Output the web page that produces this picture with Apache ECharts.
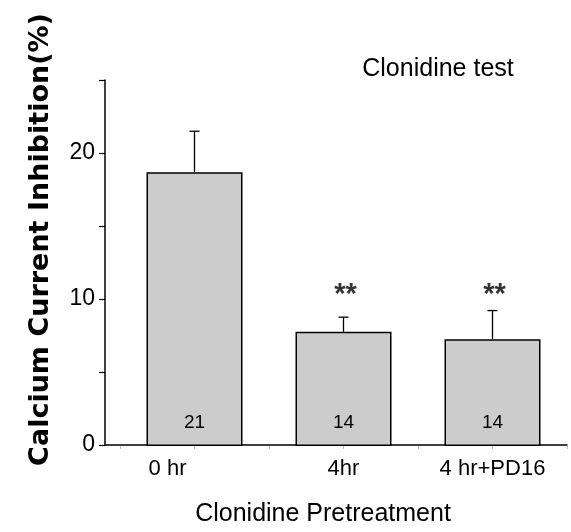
<!DOCTYPE html>
<html>
<head>
<meta charset="utf-8">
<script src="https://cdn.jsdelivr.net/npm/echarts@6/dist/echarts.min.js"></script>
<style>
  html, body { margin: 0; padding: 0; background: #fff; }
  #chart { width: 571px; height: 532px; }
</style>
</head>
<body>
<div id="chart"></div>
<script>
// Treatment groups, their slot on the x scale, and the measured values
const categories = ['0 hr', '4hr', '4 hr+PD16'];
const positions = [1, 3, 5];
const means = [18.7, 7.8, 7.3];
const sems = [2.8, 1.0, 1.95];
const nCells = [21, 14, 14];
const significance = ['', '**', '**'];
const significanceLevel = 10.5;
const yTicks = [0, 10, 20];

const FONT = '"Liberation Sans", Arial, sans-serif';
const chart = echarts.init(document.getElementById('chart'), null, { renderer: 'canvas' });

const barData = positions.map((p, i) => [p, means[i]]);
const errData = positions.map((p, i) => [p, means[i], sems[i]]);
const sigData = positions
  .map((p, i) => significance[i] ? { value: [p, significanceLevel], mark: significance[i] } : null)
  .filter(Boolean);

chart.setOption({
  animation: false,
  backgroundColor: '#ffffff',
  title: {
    text: 'Clonidine test',
    left: 433,
    top: 52,
    textAlign: 'center',
    textStyle: { fontFamily: FONT, fontSize: 25, fontWeight: 'normal', color: '#000' }
  },
  grid: [
    { left: 105, right: 4, top: 80, bottom: 86 },
    { left: 120, right: 4, top: 80, bottom: 86 }
  ],
  xAxis: [
    {
      gridIndex: 0, type: 'value', min: 0, max: 1,
      axisLine: { show: true, lineStyle: { color: '#000', width: 1.5 } },
      axisTick: { show: false }, axisLabel: { show: false }, splitLine: { show: false },
      name: 'Clonidine Pretreatment',
      nameLocation: 'middle',
      nameGap: 57,
      nameTextStyle: { fontFamily: FONT, fontSize: 25, color: '#000', padding: [0, 26, 0, 0] }
    },
    {
      gridIndex: 1, type: 'value', min: 0, max: 6, interval: 1,
      axisLine: { show: false },
      axisTick: { show: true, length: 3, lineStyle: { color: '#bbbbbb', width: 1 } },
      splitLine: { show: false },
      axisLabel: {
        fontFamily: FONT, fontSize: 22, color: '#000', margin: 12,
        formatter: v => {
          const i = positions.indexOf(v);
          if (i < 0) return '';
          return i === 0 ? '{shift|' + categories[i] + '}' : categories[i];
        },
        rich: { shift: { fontFamily: FONT, fontSize: 22, color: '#000', padding: [0, 54, 0, 0] } }
      }
    }
  ],
  yAxis: [
    {
      gridIndex: 0, type: 'value', min: 0, max: 25, interval: 5,
      axisLine: { show: true, lineStyle: { color: '#000', width: 1.5 } },
      axisTick: { show: true, length: 6, lineStyle: { color: '#000', width: 1.2 } },
      splitLine: { show: false },
      axisLabel: {
        fontFamily: FONT, fontSize: 23, color: '#000', margin: 10,
        formatter: v => yTicks.includes(v) ? String(v) : ''
      },
      name: 'Calcium Current Inhibition(%)',
      nameLocation: 'middle',
      nameRotate: 90,
      nameGap: 51,
      nameTextStyle: {
        fontFamily: '"DejaVu Sans", sans-serif', fontSize: 27, fontWeight: 'bold', color: '#000',
        padding: [0, 0, 0, 46]
      }
    },
    {
      gridIndex: 1, type: 'value', min: 0, max: 25, show: false
    }
  ],
  series: [
    {
      type: 'bar',
      xAxisIndex: 1, yAxisIndex: 1,
      barWidth: 96,
      data: barData,
      itemStyle: { color: '#cccccc', borderColor: '#000', borderWidth: 1.5 },
      label: {
        show: true, position: 'insideBottom', distance: 14,
        fontFamily: FONT, fontSize: 19, color: '#000',
        formatter: p => String(nCells[p.dataIndex])
      },
      z: 2
    },
    {
      type: 'custom',
      xAxisIndex: 1, yAxisIndex: 1,
      data: errData,
      z: 3,
      renderItem: (params, api) => {
        const x = api.value(0), m = api.value(1), s = api.value(2);
        const base = api.coord([x, m]);
        const top = api.coord([x, m + s]);
        const cap = 5;
        const style = { stroke: '#000', lineWidth: 1.3 };
        return {
          type: 'group',
          children: [
            { type: 'line', shape: { x1: base[0], y1: base[1], x2: top[0], y2: top[1] }, style },
            { type: 'line', shape: { x1: top[0] - cap, y1: top[1], x2: top[0] + cap, y2: top[1] }, style }
          ]
        };
      }
    },
    {
      type: 'scatter',
      xAxisIndex: 1, yAxisIndex: 1,
      symbolSize: 0,
      data: sigData,
      label: {
        show: true, position: 'inside', offset: [2, 3],
        fontFamily: FONT, fontSize: 29, fontWeight: 'bold', color: '#000',
        formatter: p => p.data.mark
      },
      z: 4
    }
  ]
});
</script>
</body>
</html>
